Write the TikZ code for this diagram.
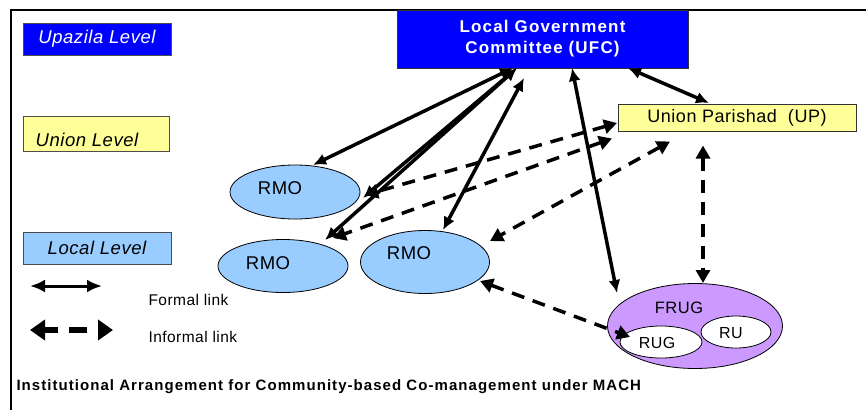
\documentclass[tikz,border=0pt]{standalone}
\usepackage{fontspec}
\setmainfont{Liberation Sans}[LetterSpace=3,BoldFeatures={LetterSpace=7}]
\usetikzlibrary{arrows.meta}
\usetikzlibrary{shapes.geometric}
\usetikzlibrary{calc}
\definecolor{upzblue}{RGB}{0,0,255}
\definecolor{unyellow}{RGB}{255,255,153}
\definecolor{lcblue}{RGB}{153,204,255}
\definecolor{frpurple}{RGB}{204,153,255}
\newcommand{\fsz}[1]{\fontsize{#1}{#1}\selectfont}

\begin{document}
\begin{tikzpicture}[x=1pt,y=-1pt,
        lvlbox/.style={draw=black!70,line width=0.8pt,inner sep=0pt,font=\itshape\fsz{18.5}},
        orgbox/.style={draw=black!80,line width=0.8pt,inner sep=0pt},
        blob/.style={ellipse,draw=black,line width=0.8pt,inner sep=0pt},
        formal/.style={line width=3.5pt,{Latex[length=13pt,width=12pt]}-{Latex[length=13pt,width=12pt]}},
        informal/.style={line width=3.5pt,dash pattern=on 13pt off 9pt,{Triangle[length=13pt,width=14pt]}-{Triangle[length=13pt,width=14pt]}}]
        \useasboundingbox (0,0) rectangle (866,410);
        \draw[line width=1.5pt] (11,410) |- (866,10);
        % level legend
        \node[lvlbox,fill=upzblue,text=white,minimum width=148pt,minimum height=32pt] (upzlvl) at (97,39) {Upazila Level};
        \node[lvlbox,fill=unyellow,minimum width=146pt,minimum height=35pt,
          label={[name=unlvltxt,font=\itshape\fsz{18.5},shift={(-9,6.5)}]center:Union Level}] (unlvl) at (96,133.5) {};
        \node[lvlbox,fill=lcblue,minimum width=148pt,minimum height=32pt] (lclvl) at (97,248) {Local Level};
        % organisations
        \node[orgbox,fill=upzblue,text=white,align=center,font=\bfseries\fontsize{17}{21}\selectfont,
          minimum width=291pt,minimum height=58pt] (ufc) at (542.5,39) {Local Government\\Committee (UFC)};
        \node[orgbox,fill=unyellow,font=\fsz{18},minimum width=238pt,minimum height=27pt] (up) at (737,117.5) {Union Parishad~~(UP)};
        \node[blob,fill=lcblue,minimum width=130pt,minimum height=54pt,
          label={[name=rmo1txt,font=\fsz{18.5},shift={(-15,-4)}]center:RMO}] (rmo1) at (295,192) {};
        \node[blob,fill=lcblue,minimum width=130pt,minimum height=53pt,
          label={[name=rmo2txt,font=\fsz{18.5},shift={(-15,-3)}]center:RMO}] (rmo2) at (283,266) {};
        \node[blob,fill=lcblue,minimum width=129pt,minimum height=63pt,
          label={[name=rmo3txt,font=\fsz{18.5},shift={(-16,-9)}]center:RMO}] (rmo3) at (425,262) {};
        \node[blob,fill=frpurple,minimum width=175pt,minimum height=85pt,
          label={[name=frugtxt,font=\fsz{16.5},shift={(-16,-18)}]center:FRUG}] (frug) at (695,326) {};
        \node[blob,fill=white,minimum width=82pt,minimum height=32pt,
          label={[name=rugtxt,font=\fsz{16},shift={(-4,1)}]center:RUG}] (rug) at (661,342) {};
        \node[blob,fill=white,minimum width=70pt,minimum height=32pt,
          label={[name=rutxt,font=\fsz{16},shift={(-5,1)}]center:RU}] (ru) at (736,332) {};
        % formal links
        \draw[formal] ($(ufc)+(-29.5,29)$) -- ($(rmo1)+(18,-27)$);
        \draw[formal] ($(ufc)+(-25.5,29)$) -- ($(rmo1)+(68,6)$);
        \draw[formal] ($(ufc)+(-25.5,29)$) -- ($(rmo2)+(42,-26)$);
        \draw[formal] ($(ufc)+(-18.5,39)$) -- ($(rmo3)+(18,-32)$);
        \draw[formal] ($(ufc)+(29.5,29)$) -- ($(frug)+(-78,-33)$);
        \draw[formal] ($(ufc)+(85.5,29)$) -- ($(up)+(-28,-14.5)$);
        % informal links
        \draw[informal] ($(up)+(-120,5.5)$) -- ($(rmo1)+(70,3)$);
        \draw[informal] ($(up)+(-125,21)$) -- ($(rmo2)+(50,-28)$);
        \draw[informal] ($(up)+(-67,24)$) -- ($(rmo3)+(65,-21)$);
        \draw[informal] ($(up)+(-34,28)$) -- ($(frug)+(8,-43)$);
        \draw[informal] ($(rmo3)+(55,19)$) -- ($(rug)+(-31,-5)$);
        % link legend
        \coordinate (fl1) at (30,286);
        \coordinate (fl2) at (102,286);
        \coordinate (il1) at (30,330);
        \coordinate (il2) at (113,330);
        \draw[line width=3pt,{Latex[length=15pt,width=13pt]}-{Latex[length=15pt,width=13pt]}] (fl1) -- (fl2);
        \draw[line width=6pt,dash pattern=on 14pt off 11pt on 18pt off 11pt,
          {Triangle[length=15pt,width=20pt]}-{Triangle[length=15pt,width=20pt]}] (il1) -- (il2);
        \node[anchor=west,font=\fsz{15.5}] (fltxt) at (145,300) {Formal link};
        \node[anchor=west,font=\fsz{15.5}] (iltxt) at (145,337) {Informal link};
        \node[anchor=west,font=\bfseries\fsz{15}] (title) at (13,387) {Institutional Arrangement for Community-based Co-management under MACH};
\end{tikzpicture}
\end{document}
